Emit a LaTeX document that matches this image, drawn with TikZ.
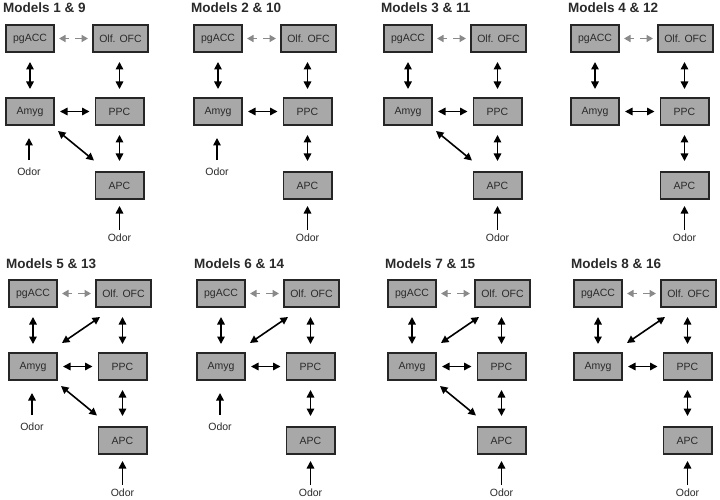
\documentclass[tikz,border=0pt]{standalone}
\usepackage{fontspec}
\setmainfont{Liberation Sans}
\usetikzlibrary{arrows.meta}
\definecolor{boxfill}{HTML}{A8A8A8}
\definecolor{boxline}{HTML}{262626}
\definecolor{boxtext}{HTML}{2A2A2A}
\definecolor{arrowgray}{HTML}{8A8A8A}
\tikzset{
  box/.style={draw=boxline, fill=boxfill, line width=1.6pt, minimum width=48.4pt,
    minimum height=27.4pt, inner sep=0pt, font=\fontsize{10.5}{12}\selectfont, text=boxtext},
  widebox/.style={box, minimum width=55.4pt},
  dbl/.style={{Triangle[length=7.5pt,width=7.5pt]}-{Triangle[length=7.5pt,width=7.5pt]}, line width=1.6pt, black},
  onearr/.style={-{Triangle[length=7.5pt,width=7.5pt]}, line width=1.6pt, black},
  garr/.style={-{Triangle[length=6.5pt,width=7pt]}, line width=1.6pt, arrowgray},
  odortxt/.style={font=\fontsize{10.5}{12}\selectfont, text=boxtext, inner sep=0pt},
  ttl/.style={font=\bfseries\fontsize{13.5}{16}\selectfont, anchor=base west, inner sep=0pt, text=boxtext}
}
% #1 prefix, #2 xoff, #3 yoff, #4 title, #5 amyg odor, #6 apc diag, #7 ofc diag
\newcommand\DiagPanel[7]{%
\begin{scope}[shift={(#2,#3)}]
  \node[ttl] (#1t) at (3,13) {#4};
  \node[box] (#1pg) at (30,38.5) {pgACC};
  \node[widebox] (#1ofc) at (120.5,38.5) {Olf. OFC};
  \node[box] (#1am) at (30,111.5) {Amyg};
  \node[box] (#1ppc) at (119.5,111.5) {PPC};
  \node[box] (#1apc) at (119.5,185.5) {APC};
  \node[odortxt] (#1oapc) at (119.5,238) {Odor};
  \draw[garr, shorten <=23pt, shorten >=4pt] (#1ofc.west) -- (#1pg.east);
  \draw[garr, shorten <=20pt, shorten >=4pt] (#1pg.east) -- (#1ofc.west);
  \draw[dbl, shorten <=9pt, shorten >=8pt] (#1pg) -- (#1am);
  \draw[dbl, shorten <=9pt, shorten >=8pt] (#1ofc.south -| #1ppc) -- (#1ppc);
  \draw[dbl, shorten <=5pt, shorten >=5pt] (#1am) -- (#1ppc);
  \draw[dbl, shorten <=9pt, shorten >=10pt] (#1ppc) -- (#1apc);
  \draw[onearr, shorten <=4pt, shorten >=6pt] (#1oapc) -- (#1apc);
  \ifnum#5=1
    \node[odortxt] (#1oam) at (29,172) {Odor};
    \draw[onearr, shorten <=12pt, shorten >=12pt] (#1oam.center) -- (#1am.south -| #1oam);
  \fi
  \ifnum#6=1
    \draw[dbl] ([shift={(3,5)}]#1am.south east) -- ([shift={(-0.5,-10.5)}]#1apc.north west);
  \fi
  \ifnum#7=1
    \draw[dbl] ([shift={(4,-9)}]#1am.north east) -- ([shift={(5,9)}]#1ofc.south west);
  \fi
\end{scope}}
\begin{document}
\begin{tikzpicture}[x=1pt,y=-1pt]
  \useasboundingbox[fill=white] (0,0) rectangle (720,500);
  \DiagPanel{a}{0}{0}{Models 1 \& 9}{1}{1}{0}
  \DiagPanel{b}{188}{0}{Models 2 \& 10}{1}{0}{0}
  \DiagPanel{c}{378}{0}{Models 3 \& 11}{0}{1}{0}
  \DiagPanel{d}{565}{0}{Models 4 \& 12}{0}{0}{0}
  \DiagPanel{e}{3}{255}{Models 5 \& 13}{1}{1}{1}
  \DiagPanel{f}{191}{255}{Models 6 \& 14}{1}{0}{1}
  \DiagPanel{g}{382}{255}{Models 7 \& 15}{0}{1}{1}
  \DiagPanel{h}{568}{255}{Models 8 \& 16}{0}{0}{1}
\end{tikzpicture}
\end{document}
